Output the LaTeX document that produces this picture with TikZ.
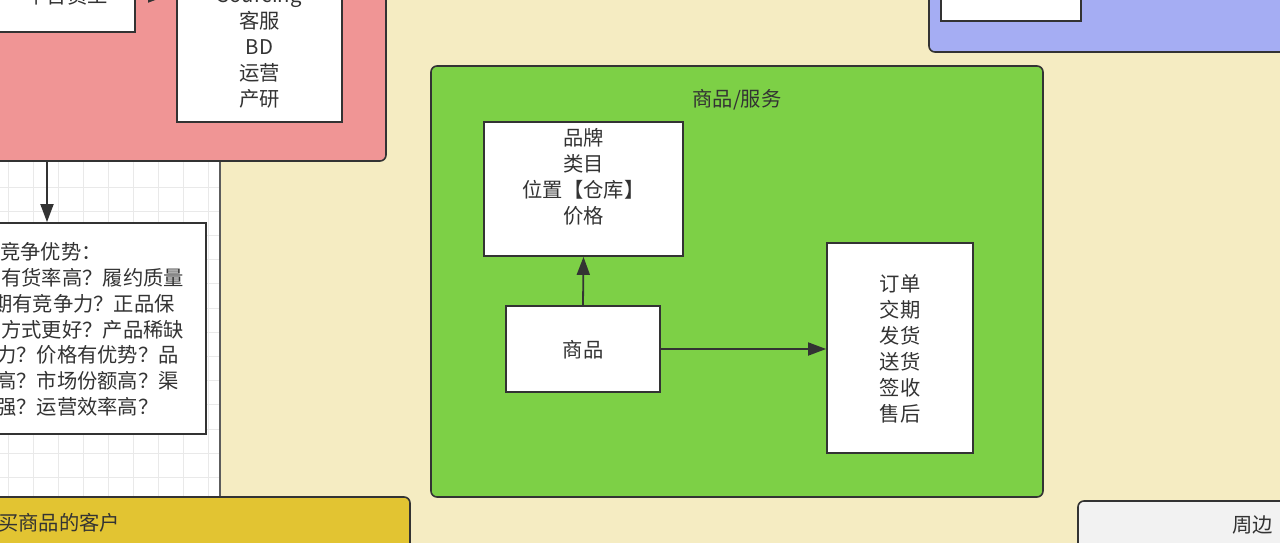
\documentclass[tikz,border=0pt]{standalone}
\usepackage{fontspec}
\setmainfont{Noto Sans CJK SC}
\usetikzlibrary{arrows.meta}
\definecolor{bgc}{HTML}{F5ECC2}
\definecolor{pinkc}{HTML}{F09595}
\definecolor{bluec}{HTML}{A5ADF3}
\definecolor{greenc}{HTML}{7DD046}
\definecolor{yellowc}{HTML}{E2C432}
\definecolor{grayc}{HTML}{F2F2F2}
\definecolor{linec}{HTML}{333333}
\definecolor{gridc}{HTML}{E9E9E9}
\definecolor{txtc}{HTML}{333333}
\begin{document}
\begin{tikzpicture}[x=1pt,y=-1pt,
  container/.style={draw=linec,line width=1.6pt,rounded corners=6pt},
  whitebox/.style={draw=linec,fill=white,line width=1.8pt,inner sep=0pt},
  txt/.style={text=txtc,font=\fontsize{20.3}{26}\selectfont,align=center,inner sep=0pt},
  ltxt/.style={text=txtc,font=\fontsize{20.3}{26}\selectfont,inner sep=0pt,anchor=west},
  arrowline/.style={draw=linec,line width=1.8pt,-{Triangle[length=18pt,width=13pt]}}]
\useasboundingbox (0,0) rectangle (1280,543);
\clip (0,0) rectangle (1280,543);
\fill[bgc] (0,0) rectangle (1280,543);
% grid area
\fill[white] (-5,161) rectangle (220,497);
\foreach \gx in {8.5,33.5,58.5,83.5,108.5,133.5,158.5,183.5,208.5}
  \draw[gridc,line width=0.8pt] (\gx,161) -- (\gx,497);
\foreach \gy in {187,211.2,235.4,259.6,283.8,308,332.2,356.4,380.6,404.8,429,453.2,477.4}
  \draw[gridc,line width=0.8pt] (-5,\gy) -- (220,\gy);
\draw[linec!80,line width=1.2pt] (220,161) -- (220,497);
% pink container
\draw[container,fill=pinkc] (-30,-40) rectangle (386,161);
\node[whitebox,minimum width=150pt,minimum height=80pt] (staff) at (60,-8) {};
\node[txt] (stafft) at (67,-4) {平台员工};
\node[whitebox,minimum width=165pt,minimum height=150pt] (roles) at (259.5,47) {};
\node[txt] (rolest) at (259.5,48) {Sourcing\\客服\\BD\\运营\\产研};
\coordinate (sa) at (135,-4);
\coordinate (sb) at (166,-4);
\draw[arrowline] (sa) -- (sb);
% arrow down to competition box
\coordinate (pa) at (47,161);
\node[whitebox,minimum width=240pt,minimum height=211pt] (comp) at (86,328.5) {};
\draw[arrowline] (pa) -- (pa |- comp.north);
\node[ltxt] (c1) at (0,252) {竞争优势：};
\node[ltxt] (c2) at (1,278) {有货率高？履约质量};
\node[ltxt] (c3) at (-8,304) {期有竞争力？正品保};
\node[ltxt] (c4) at (1,329.5) {方式更好？产品稀缺};
\node[ltxt] (c5) at (-4,355) {力？价格有优势？品};
\node[ltxt] (c6) at (-4,381) {高？市场份额高？渠};
\node[ltxt] (c7) at (-4,406.5) {强？运营效率高？};
% blue container
\draw[container,fill=bluec] (929,-40) rectangle (1320,52);
\node[whitebox,minimum width=140pt,minimum height=60pt] (bluebox) at (1011,-9) {};
% green container
\draw[container,fill=greenc] (431,66) rectangle (1043,497);
\node[txt] (gtitle) at (737,100) {商品/服务};
\node[whitebox,minimum width=199pt,minimum height=134pt] (attr) at (583.5,189) {};
\node[txt] (attrt) at (583.5,177) {品牌\\类目\\位置【仓库】\\价格};
\node[whitebox,minimum width=154pt,minimum height=86pt] (goods) at (583,349) {};
\node[txt] (goodst) at (583,350) {商品};
\node[whitebox,minimum width=146pt,minimum height=210pt] (order) at (900,348) {};
\node[txt] (ordert) at (900,349) {订单\\交期\\发货\\送货\\签收\\售后};
\draw[arrowline] (goods.north) -- (attr.south);
\draw[arrowline] (goods.east) -- (goods.east -| order.west);
% yellow container
\draw[container,fill=yellowc] (-30,497) rectangle (410,600);
\node[ltxt] (custt) at (-2,523) {买商品的客户};
% gray container
\draw[container,fill=grayc] (1078,501) rectangle (1320,600);
\node[ltxt] (periph) at (1232,525) {周边};
\end{tikzpicture}
\end{document}
